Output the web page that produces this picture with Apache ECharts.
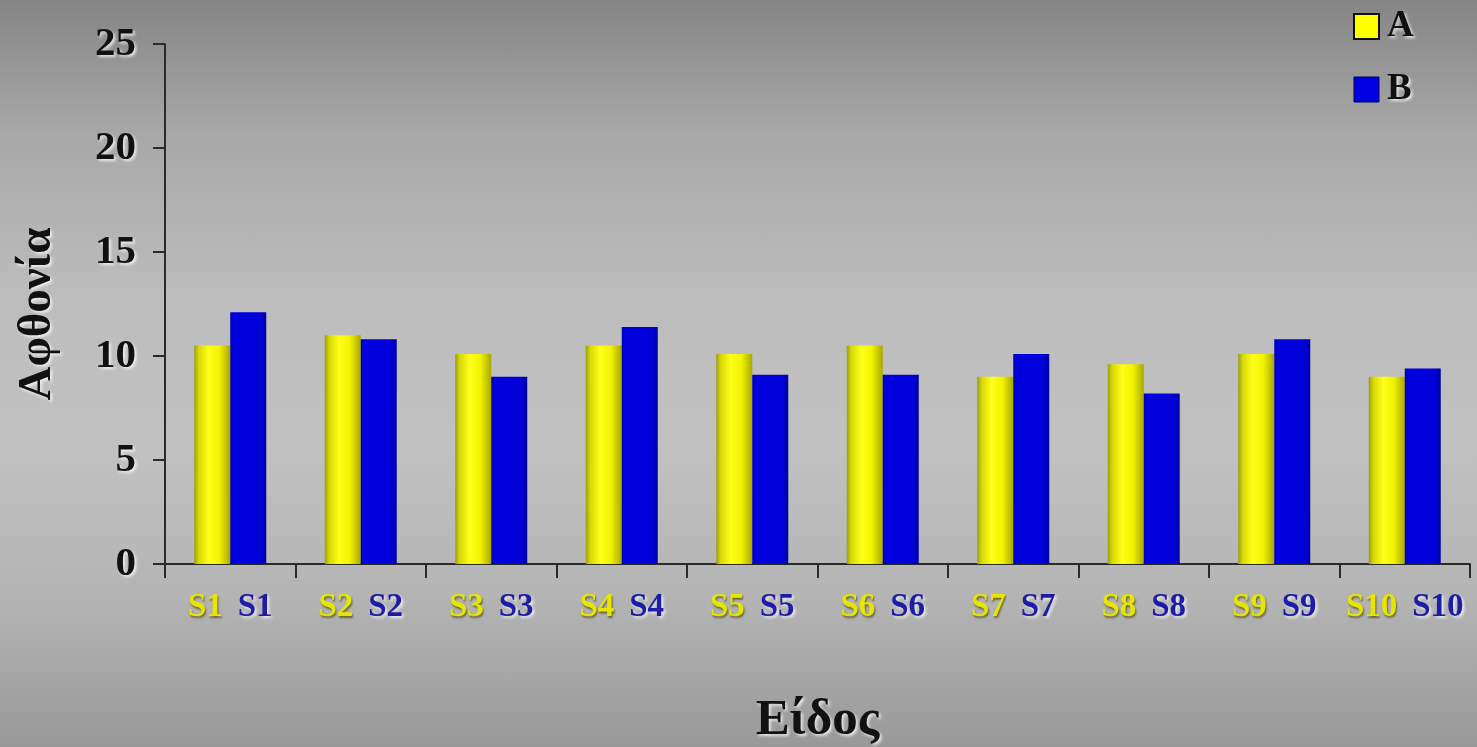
<!DOCTYPE html>
<html>
<head>
<meta charset="utf-8">
<script src="https://cdn.jsdelivr.net/npm/echarts@6/dist/echarts.min.js"></script>
<style>
  html, body { margin: 0; padding: 0; }
  body {
    width: 1477px; height: 747px; overflow: hidden;
    background: linear-gradient(to bottom, #858585 0%, #a8a8a8 18%, #bdbdbd 40%, #c1c1c1 60%, #b4b4b4 80%, #999999 100%);
  }
  #chart { width: 1477px; height: 747px; }
</style>
</head>
<body>
<div id="chart"></div>
<script>
// Abundance per species for the two samples
const categories = ['S1', 'S2', 'S3', 'S4', 'S5', 'S6', 'S7', 'S8', 'S9', 'S10'];
const seriesA = [10.5, 11.0, 10.1, 10.5, 10.1, 10.5, 9.0, 9.6, 10.1, 9.0];
const seriesB = [12.1, 10.8, 9.0, 11.4, 9.1, 9.1, 10.1, 8.2, 10.8, 9.4];
const yTicks = [0, 5, 10, 15, 20, 25];

const serif = '"Liberation Serif", "DejaVu Serif", serif';
const emboss = {
  textShadowColor: 'rgba(255,255,255,0.75)',
  textShadowBlur: 3,
  textShadowOffsetX: 2,
  textShadowOffsetY: 2
};

const yellowFill = new echarts.graphic.LinearGradient(0, 0, 1, 0, [
  { offset: 0, color: '#9c9c12' },
  { offset: 0.12, color: '#d6d606' },
  { offset: 0.4, color: '#ffff1a' },
  { offset: 0.7, color: '#f2f200' },
  { offset: 1, color: '#a8a800' }
]);
const blueFill = new echarts.graphic.LinearGradient(0, 0, 1, 0, [
  { offset: 0, color: '#0000b0' },
  { offset: 0.1, color: '#0000e0' },
  { offset: 0.85, color: '#0000d8' },
  { offset: 1, color: '#00009c' }
]);

const chart = echarts.init(document.getElementById('chart'), null, { renderer: 'canvas' });

chart.setOption({
  backgroundColor: 'transparent',
  animation: false,
  grid: { left: 165, right: 7, top: 44, bottom: 183, containLabel: false, outerBoundsMode: 'none' },
  legend: {
    orient: 'vertical',
    left: 1348,
    top: 3,
    itemWidth: 25,
    itemHeight: 25,
    itemGap: 26,
    icon: 'rect',
    textStyle: Object.assign({
      fontFamily: serif, fontWeight: 'bold', fontSize: 37, color: '#111', padding: [4, 0, 0, 3]
    }, emboss),
    data: [
      { name: 'A', itemStyle: { color: '#ffff00', borderColor: '#111', borderWidth: 2 } },
      { name: 'B', itemStyle: { color: '#0000e0', borderColor: '#00006a', borderWidth: 1 } }
    ]
  },
  xAxis: {
    type: 'category',
    data: categories,
    name: 'Είδος',
    nameLocation: 'middle',
    nameGap: 131,
    nameTextStyle: Object.assign({
      fontFamily: serif, fontWeight: 'bold', fontSize: 51, color: '#111'
    }, emboss),
    axisLine: { lineStyle: { color: '#2a2a2a', width: 2 } },
    axisTick: { show: true, length: 14, lineStyle: { color: '#2a2a2a', width: 2 } },
    axisLabel: {
      margin: 27,
      interval: 0,
      formatter: function (v) { return '{a|' + v + '}{g|}{b|' + v + '}'; },
      rich: {
        a: {
          fontFamily: serif, fontWeight: 'bold', fontSize: 33, color: '#e6e600',
          textShadowColor: 'rgba(70,70,0,0.7)', textShadowBlur: 2, textShadowOffsetX: 1, textShadowOffsetY: 2
        },
        g: { width: 15 },
        b: Object.assign({
          fontFamily: serif, fontWeight: 'bold', fontSize: 33, color: '#1c1ca8'
        }, emboss)
      }
    }
  },
  yAxis: {
    type: 'value',
    min: yTicks[0],
    max: yTicks[yTicks.length - 1],
    interval: 5,
    name: 'Αφθονία',
    nameLocation: 'middle',
    nameGap: 104,
    nameRotate: 90,
    nameTextStyle: Object.assign({
      fontFamily: serif, fontWeight: 'bold', fontSize: 47, color: '#111', padding: [0, 20, 0, 0]
    }, emboss),
    axisLine: { show: true, lineStyle: { color: '#2a2a2a', width: 2 } },
    axisTick: { show: true, length: 12, lineStyle: { color: '#2a2a2a', width: 2 } },
    splitLine: { show: false },
    axisLabel: Object.assign({
      margin: 29,
      fontFamily: serif, fontWeight: 'bold', fontSize: 41, color: '#111'
    }, emboss)
  },
  series: [
    {
      name: 'A',
      type: 'bar',
      data: seriesA,
      barWidth: 36,
      barGap: '0%',
      itemStyle: { color: yellowFill }
    },
    {
      name: 'B',
      type: 'bar',
      data: seriesB,
      barWidth: 36,
      barGap: '0%',
      itemStyle: { color: blueFill }
    }
  ]
});
</script>
</body>
</html>
